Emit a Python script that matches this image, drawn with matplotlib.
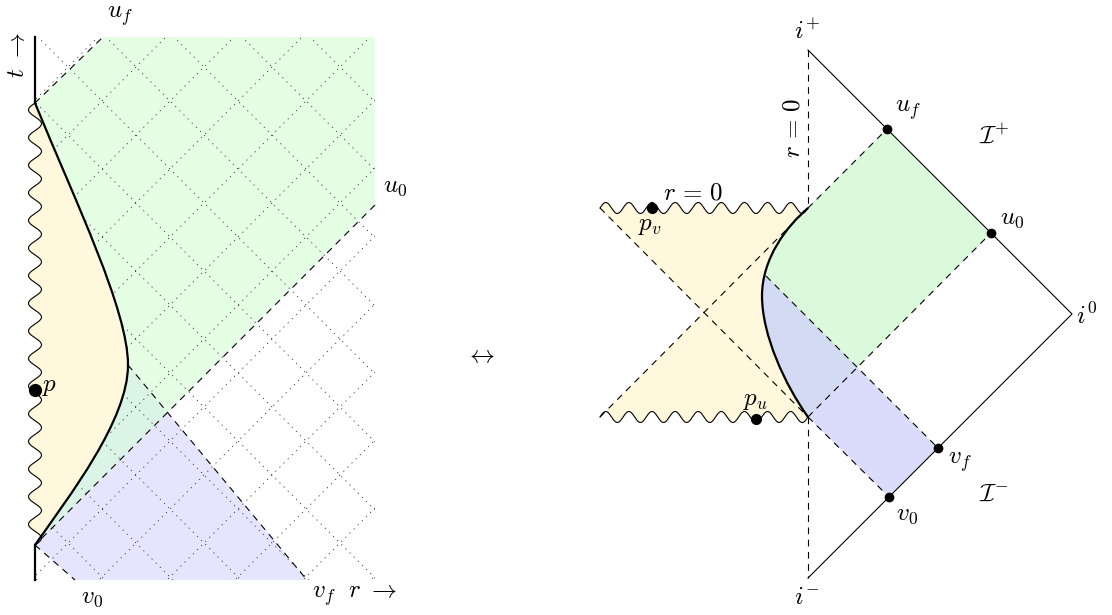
import numpy as np
import matplotlib
matplotlib.use('Agg')
import matplotlib.pyplot as plt
from matplotlib.path import Path
from matplotlib.patches import PathPatch

# everything is placed in pixel coordinates of the 1112x615 picture (y down)

# ---- left panel: flat (t, r) picture ----
left_box = [(35, 37), (375, 37), (375, 580), (35, 580)]
left_curve_top = [(35, 103), (76, 203), (128, 310), (128, 365)]
left_curve_bot = [(128, 365), (128, 420), (70, 495), (35, 545)]
left_uf = [(35, 103), (103, 37)]
left_u0 = [(375, 205), (35, 545)]
left_v0 = [(35, 545), (75, 580)]
left_vf = [(128, 365), (307, 580)]
left_green = [(35, 103), (103, 37), (375, 37), (375, 205), (35, 545)]
left_blue = [(35, 545), (75, 580), (307, 580), (128, 365), (35, 365)]
left_axis_top = [(35, 37), (35, 103)]
left_axis_bot = [(35, 545), (35, 580)]
left_wave = [(35, 103), (35, 545)]
# dotted null grid: x + y = c and x - y = c
left_u_grid = [135, 203, 271, 339, 407, 475, 543, 611, 679, 747, 815, 883, 951]
left_v_grid = [273, 205, 137, 69, 1, -67, -135, -203, -271, -339, -407, -475, -543]
left_p = (35, 390)

# ---- right panel: Penrose diagram ----
i_plus = (808, 50)
i_zero = (1072, 314)
i_minus = (808, 578)
right_curve_top = [(808, 208), (787, 226), (762, 258), (762, 296)]
right_curve_bot = [(762, 296), (762, 335), (785, 385), (808, 417)]
dot_uf = (887, 129)
dot_u0 = (991, 233)
dot_vf = (938, 448)
dot_v0 = (889, 497)
dot_pv = (652, 208)
dot_pu = (756, 419)
right_vf_start = (766, 276)
x_center = (704, 313)
right_wave_top = [(600, 208), (808, 208)]
right_wave_bot = [(600, 417), (808, 417)]
right_green = [(808, 208), dot_uf, dot_u0, (808, 417), (740, 417), (740, 208)]
right_blue = [dot_v0, dot_vf, (740, 250), (740, 417), (808, 417)]

labels = [
    (r'$t\ \rightarrow$', 17, 55, 90),
    (r'$u_f$', 120, 16, 0),
    (r'$u_0$', 395, 186, 0),
    (r'$v_0$', 92, 597, 0),
    (r'$v_f\ \ r\ \rightarrow$', 355, 596, 0),
    (r'$p$', 50, 386, 0),
    (r'$\leftrightarrow$', 480, 355, 0),
    (r'$i^{+}$', 807, 32, 0),
    (r'$r\,=\,0$', 793, 128, 90),
    (r'$u_f$', 908, 110, 0),
    (r'$\mathcal{I}^{+}$', 994, 136, 0),
    (r'$u_0$', 1012, 218, 0),
    (r'$r\,=\,0$', 693, 192, 0),
    (r'$p_v$', 650, 225, 0),
    (r'$i^{0}$', 1087, 316, 0),
    (r'$p_u$', 755, 400, 0),
    (r'$v_f$', 960, 462, 0),
    (r'$\mathcal{I}^{-}$', 994, 494, 0),
    (r'$v_0$', 907, 514, 0),
    (r'$i^{-}$', 807, 597, 0),
]

YELLOW = '#fff8dc'
DASH = (0, (6, 5))


def build_path(start, pieces, close=True):
    verts = [start]
    codes = [Path.MOVETO]
    for kind, pts in pieces:
        if kind == 'curve':
            verts += list(pts[1:])
            codes += [Path.CURVE4] * 3
        else:
            verts += list(pts)
            codes += [Path.LINETO] * len(pts)
    if close:
        verts.append(start)
        codes.append(Path.CLOSEPOLY)
    return Path(verts, codes)


def snake(p0, p1, amp, period, first=1):
    # tikz-like snake decoration along a straight segment
    p0 = np.array(p0, float)
    p1 = np.array(p1, float)
    d = p1 - p0
    length = np.hypot(d[0], d[1])
    n = max(1, int(round(length / period)))
    s = np.linspace(0, 1, n * 24 + 1)
    normal = np.array([-d[1], d[0]]) / length
    off = first * amp * np.sin(2 * np.pi * n * s)
    pts = p0 + np.outer(s, d) + np.outer(off, normal)
    return [tuple(p) for p in pts]


def seg(ax, pts, **kw):
    xs = [p[0] for p in pts]
    ys = [p[1] for p in pts]
    return ax.plot(xs, ys, **kw)[0]


def draw_left(ax):
    clip = PathPatch(build_path(left_curve_top[0], [
        ('curve', left_curve_top), ('curve', left_curve_bot),
        ('line', [left_box[3], left_box[2], left_box[1], left_box[0]])]),
        fill=False, lw=0)
    ax.add_patch(clip)

    blue = ax.fill([p[0] for p in left_blue], [p[1] for p in left_blue],
                   color=(0.8, 0.8, 1.0), alpha=0.5, lw=0, zorder=1)[0]
    blue.set_clip_path(clip)
    green = ax.fill([p[0] for p in left_green], [p[1] for p in left_green],
                    color=(0.833, 1.0, 0.833), alpha=0.6, lw=0, zorder=1)[0]
    green.set_clip_path(clip)

    for c in left_u_grid:
        ln = seg(ax, [(-50, c + 50), (700, c - 700)], color='0.2', lw=0.6,
                 ls=(0, (1.5, 5.5)), zorder=2)
        ln.set_clip_path(clip)
    for c in left_v_grid:
        ln = seg(ax, [(-50, -50 - c), (700, 700 - c)], color='0.2', lw=0.6,
                 ls=(0, (1.5, 5.5)), zorder=2)
        ln.set_clip_path(clip)

    wave = snake(left_wave[0], left_wave[1], 6.5, 27.6, first=1)
    yellow = build_path(wave[-1], [('line', wave[::-1][1:]),
                                   ('curve', left_curve_top),
                                   ('curve', left_curve_bot)])
    ax.add_patch(PathPatch(yellow, facecolor=YELLOW, lw=0, zorder=3))
    seg(ax, wave, color='k', lw=0.8, zorder=5)

    for line in (left_uf, left_u0, left_v0, left_vf):
        seg(ax, line, color='k', lw=0.8, ls=DASH, zorder=4)
    for line in (left_axis_top, left_axis_bot):
        seg(ax, line, color='k', lw=1.6, zorder=5)

    curve = build_path(left_curve_top[0], [('curve', left_curve_top),
                                           ('curve', left_curve_bot)], close=False)
    ax.add_patch(PathPatch(curve, fill=False, lw=1.6, edgecolor='k', zorder=5))
    ax.plot(*left_p, 'o', color='k', ms=8.5, zorder=6)


def draw_right(ax):
    top = right_curve_top[0]
    bot = right_curve_bot[-1]
    clip = PathPatch(build_path(top, [
        ('curve', right_curve_top), ('curve', right_curve_bot),
        ('line', [(bot[0], 615), (1112, 615), (1112, 0), (top[0], 0)])]),
        fill=False, lw=0)
    ax.add_patch(clip)

    green = ax.fill([p[0] for p in right_green], [p[1] for p in right_green],
                    color=(0.72, 0.97, 0.72), alpha=0.5, lw=0, zorder=1)[0]
    green.set_clip_path(clip)
    blue = ax.fill([p[0] for p in right_blue], [p[1] for p in right_blue],
                   color=(0.825, 0.825, 0.981), alpha=0.8, lw=0, zorder=1)[0]
    blue.set_clip_path(clip)

    wtop = snake(right_wave_top[0], right_wave_top[1], 5.5, 23, first=-1)
    wbot = snake(right_wave_bot[0], right_wave_bot[1], 5.5, 23, first=-1)
    yellow = build_path(wtop[0], [('line', wtop[1:]),
                                  ('curve', right_curve_top),
                                  ('curve', right_curve_bot),
                                  ('line', wbot[::-1]),
                                  ('line', [x_center])])
    ax.add_patch(PathPatch(yellow, facecolor=YELLOW, lw=0, zorder=3))
    seg(ax, wtop, color='k', lw=0.8, zorder=5)
    seg(ax, wbot, color='k', lw=0.8, zorder=5)

    dashed = [
        [i_plus, top], [bot, i_minus],
        [top, dot_uf], [bot, dot_u0], [bot, dot_v0], [right_vf_start, dot_vf],
        [wtop[0], bot], [wbot[0], top],
    ]
    for line in dashed:
        seg(ax, line, color='k', lw=0.8, ls=DASH, zorder=4)
    seg(ax, [i_plus, i_zero, i_minus], color='k', lw=0.8, zorder=5)

    curve = build_path(top, [('curve', right_curve_top),
                             ('curve', right_curve_bot)], close=False)
    ax.add_patch(PathPatch(curve, fill=False, lw=1.6, edgecolor='k', zorder=5))

    for p in (dot_uf, dot_u0, dot_vf, dot_v0):
        ax.plot(*p, 'o', color='k', ms=6, zorder=6)
    for p in (dot_pv, dot_pu):
        ax.plot(*p, 'o', color='k', ms=7, zorder=6)


def main():
    plt.rcParams['mathtext.fontset'] = 'cm'
    fig = plt.figure(figsize=(11.12, 6.15), dpi=100)
    ax = fig.add_axes([0, 0, 1, 1])
    ax.set_xlim(0, 1112)
    ax.set_ylim(615, 0)
    ax.axis('off')

    draw_left(ax)
    draw_right(ax)

    for text, x, y, rot in labels:
        ax.text(x, y, text, fontsize=18, rotation=rot, ha='center',
                va='center', zorder=7)

    fig.savefig('out.png', dpi=100)


if __name__ == '__main__':
    main()
